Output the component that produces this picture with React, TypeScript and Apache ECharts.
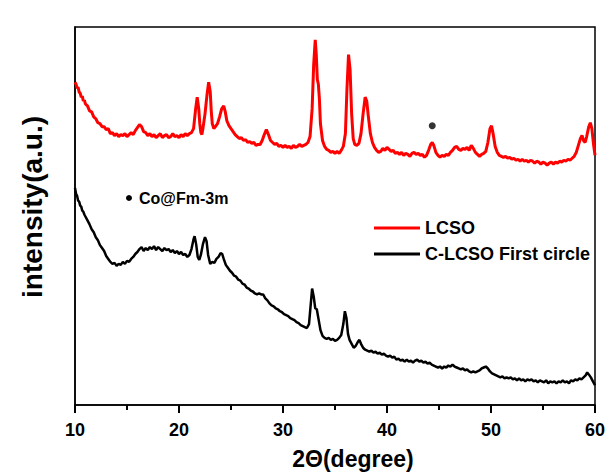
import React, { useEffect, useRef } from "react";
import * as echarts from "echarts";

const xTicks = [10, 20, 30, 40, 50, 60];
const xMinorTicks = [15, 25, 35, 45, 55];
const seriesNames = ["LCSO", "C-LCSO First circle"];
const seriesColors = ["#ff0000", "#000000"];

const lcso: number[][] = [
  [10.0,327],[10.1,325],[10.2,321],[10.3,322],[10.4,317],[10.5,316],[10.6,312],[10.7,313],[10.8,308],[10.9,309],[11.0,305],[11.2,303],[11.4,298],[11.6,297],[11.8,292],[12.0,290],[12.2,286],[12.4,285],[12.6,282],[12.8,282],[13.0,279],[13.2,280],[13.4,275],[13.6,276],[13.8,273],[14.0,275],[14.2,272],[14.4,274],[14.6,273],[14.8,275],[15.0,272],[15.2,274],[15.4,276],[15.6,274],[15.8,278],[16.0,281],[16.2,284],[16.4,282],[16.6,277],[16.8,276],[17.0,273],[17.2,275],[17.4,272],[17.6,274],[17.8,271],[18.0,273],[18.2,275],[18.4,271],[18.6,273],[18.8,274],[19.0,271],[19.2,272],[19.4,275],[19.6,272],[19.8,273],[20.0,271],[20.2,274],[20.4,272],[20.6,275],[20.8,273],[21.0,275],[21.2,276],[21.4,280],[21.6,300],[21.75,312],[21.9,300],[22.0,285],[22.1,276],[22.2,274],[22.3,280],[22.5,295],[22.7,315],[22.85,327],[23.0,318],[23.1,298],[23.2,285],[23.35,280],[23.5,282],[23.7,285],[23.9,292],[24.1,300],[24.3,303],[24.45,297],[24.6,288],[24.8,283],[25.0,280],[25.2,277],[25.4,274],[25.6,272],[25.8,270],[26.0,271],[26.2,268],[26.4,269],[26.6,266],[26.8,267],[27.0,265],[27.2,266],[27.4,263],[27.6,264],[27.8,264],[28.0,268],[28.2,274],[28.4,279],[28.6,274],[28.8,268],[29.0,266],[29.2,264],[29.4,265],[29.6,262],[29.8,263],[30.0,261],[30.2,263],[30.4,261],[30.6,262],[30.8,260],[31.0,263],[31.2,261],[31.4,262],[31.6,264],[31.8,262],[32.0,263],[32.2,264],[32.4,266],[32.6,272],[32.8,300],[32.95,345],[33.1,370],[33.2,355],[33.3,330],[33.4,325],[33.5,310],[33.6,285],[33.8,268],[34.0,262],[34.2,259],[34.4,258],[34.6,256],[34.8,257],[35.0,255],[35.2,257],[35.4,255],[35.6,258],[35.8,262],[36.0,275],[36.15,320],[36.3,355],[36.45,340],[36.6,295],[36.75,270],[36.9,264],[37.1,263],[37.3,265],[37.5,275],[37.7,295],[37.9,312],[38.05,308],[38.2,293],[38.4,275],[38.6,266],[38.8,261],[39.0,258],[39.2,256],[39.4,257],[39.6,260],[39.8,258],[40.0,261],[40.2,259],[40.4,257],[40.6,258],[40.8,255],[41.0,256],[41.2,254],[41.4,256],[41.6,253],[41.8,255],[42.0,254],[42.2,252],[42.4,255],[42.6,256],[42.8,254],[43.0,255],[43.2,253],[43.4,254],[43.6,251],[43.8,253],[44.0,258],[44.2,264],[44.35,266],[44.5,263],[44.7,256],[44.9,253],[45.1,251],[45.3,253],[45.5,252],[45.7,254],[45.9,253],[46.1,256],[46.3,258],[46.5,261],[46.7,262],[46.9,259],[47.1,258],[47.3,260],[47.5,259],[47.7,261],[47.9,258],[48.1,263],[48.3,260],[48.5,256],[48.7,254],[48.9,252],[49.1,254],[49.3,255],[49.5,257],[49.7,266],[49.9,280],[50.05,283],[50.2,275],[50.4,262],[50.6,256],[50.8,253],[51.0,252],[51.2,251],[51.4,252],[51.6,250],[51.8,251],[52.0,249],[52.2,250],[52.4,248],[52.6,249],[52.8,247],[53.0,249],[53.2,247],[53.4,248],[53.6,246],[53.8,248],[54.0,247],[54.2,245],[54.4,247],[54.6,246],[54.8,244],[55.0,246],[55.2,245],[55.4,243],[55.6,245],[55.8,246],[56.0,244],[56.2,246],[56.4,245],[56.6,247],[56.8,246],[57.0,248],[57.2,247],[57.4,249],[57.6,248],[57.8,250],[58.0,252],[58.2,256],[58.4,263],[58.6,270],[58.75,273],[58.9,268],[59.05,266],[59.2,272],[59.4,282],[59.55,286],[59.7,280],[59.85,265],[60.0,253]
];

const clcso: number[][] = [
  [10.0,220],[10.1,214],[10.2,212],[10.3,207],[10.4,206],[10.5,202],[10.6,201],[10.7,197],[10.8,196],[10.9,193],[11.0,191],[11.2,187],[11.4,183],[11.6,178],[11.8,175],[12.0,170],[12.2,167],[12.4,162],[12.6,159],[12.8,156],[13.0,151],[13.2,148],[13.4,145],[13.6,143],[13.8,144],[14.0,141],[14.2,143],[14.4,142],[14.6,145],[14.8,143],[15.0,146],[15.2,145],[15.4,148],[15.6,150],[15.8,153],[16.0,155],[16.2,158],[16.4,160],[16.6,156],[16.8,159],[17.0,157],[17.2,160],[17.4,158],[17.6,161],[17.8,157],[18.0,160],[18.2,158],[18.4,156],[18.6,159],[18.8,157],[19.0,158],[19.2,155],[19.4,157],[19.6,154],[19.8,156],[20.0,153],[20.2,155],[20.4,152],[20.6,153],[20.8,150],[21.0,152],[21.2,158],[21.4,168],[21.5,171],[21.65,163],[21.8,150],[21.95,147],[22.1,152],[22.3,163],[22.5,170],[22.65,166],[22.8,152],[23.0,143],[23.2,145],[23.4,144],[23.6,148],[23.8,150],[24.0,154],[24.15,153],[24.3,148],[24.5,142],[24.7,139],[24.9,136],[25.1,134],[25.3,131],[25.5,130],[25.7,127],[25.9,126],[26.1,123],[26.3,122],[26.5,119],[26.7,118],[26.9,116],[27.1,115],[27.3,113],[27.5,112],[27.7,113],[27.9,112],[28.1,112],[28.3,108],[28.5,106],[28.7,103],[28.9,101],[29.1,100],[29.3,98],[29.5,97],[29.7,95],[29.9,94],[30.1,92],[30.3,91],[30.5,90],[30.7,88],[30.9,87],[31.1,86],[31.3,84],[31.5,83],[31.7,81],[31.9,80],[32.1,79],[32.3,78],[32.5,82],[32.65,100],[32.8,118],[32.95,110],[33.1,98],[33.25,97],[33.4,88],[33.6,76],[33.8,70],[34.0,68],[34.2,67],[34.4,68],[34.6,66],[34.8,67],[35.0,65],[35.2,66],[35.4,68],[35.6,71],[35.8,82],[35.95,95],[36.1,88],[36.25,72],[36.4,66],[36.6,62],[36.8,58],[37.0,60],[37.2,64],[37.35,66],[37.5,62],[37.7,58],[37.9,56],[38.1,55],[38.3,54],[38.5,55],[38.7,53],[38.9,54],[39.1,52],[39.3,53],[39.5,51],[39.7,52],[39.9,50],[40.1,49],[40.3,50],[40.5,48],[40.7,49],[40.9,46],[41.1,47],[41.3,45],[41.5,46],[41.7,44],[41.9,46],[42.1,44],[42.3,45],[42.5,43],[42.7,45],[42.9,46],[43.1,44],[43.3,45],[43.5,43],[43.7,44],[43.9,42],[44.1,43],[44.3,41],[44.5,40],[44.7,39],[44.9,38],[45.1,39],[45.3,37],[45.5,39],[45.7,38],[45.9,40],[46.1,39],[46.3,41],[46.5,39],[46.7,38],[46.9,37],[47.1,36],[47.3,37],[47.5,35],[47.7,36],[47.9,34],[48.1,33],[48.3,34],[48.5,33],[48.7,34],[48.9,35],[49.1,37],[49.3,38],[49.5,39],[49.7,37],[49.9,34],[50.1,32],[50.3,31],[50.5,30],[50.7,29],[50.9,28],[51.1,29],[51.3,27],[51.5,28],[51.7,27],[51.9,28],[52.1,26],[52.3,27],[52.5,25],[52.7,27],[52.9,25],[53.1,26],[53.3,24],[53.5,26],[53.7,25],[53.9,26],[54.1,24],[54.3,25],[54.5,23],[54.7,25],[54.9,24],[55.1,23],[55.3,25],[55.5,22],[55.7,24],[55.9,23],[56.1,24],[56.3,22],[56.5,24],[56.7,23],[56.9,25],[57.1,23],[57.3,24],[57.5,22],[57.7,25],[57.9,24],[58.1,26],[58.3,25],[58.5,27],[58.7,26],[58.9,28],[59.1,30],[59.25,33],[59.4,31],[59.6,28],[59.8,24],[60.0,20]
];

// Co@Fm-3m reflection marker (2θ, intensity)
const coPeak: number[][] = [[44.35, 283]];
const annotationText = "Co@Fm-3m";

const FONT = "'Liberation Sans', Arial, Helvetica, sans-serif";

// tick marks: [value, length]
const tickData: number[][] = [
  ...xTicks.map((v) => [v, 8]),
  ...xMinorTicks.map((v) => [v, 5]),
];

export default function App() {
  const ref = useRef<HTMLDivElement>(null);
  useEffect(() => {
    if (!ref.current) return;
    const chart = echarts.init(ref.current, null, { renderer: "svg" });
    chart.setOption({
      animation: false,
      grid: {
        left: 75,
        right: 21,
        top: 27,
        bottom: 65,
        show: true,
        borderColor: "#000",
        borderWidth: 1.5,
      },
      legend: {
        data: seriesNames.map((n) => ({ name: n, icon: "rect" })),
        orient: "vertical",
        left: 369,
        top: 214,
        itemWidth: 46,
        itemHeight: 3,
        itemGap: 8,
        textStyle: {
          fontFamily: FONT,
          fontWeight: "bold",
          fontSize: 18,
          color: "#000",
          lineHeight: 18,
        },
      },
      xAxis: {
        type: "value",
        min: xTicks[0],
        max: xTicks[xTicks.length - 1],
        interval: 10,
        name: "2\u0398(degree)",
        nameLocation: "middle",
        nameGap: 42,
        nameTextStyle: {
          fontFamily: FONT,
          fontWeight: "bold",
          fontSize: 23,
          color: "#000",
          padding: [0, 0, 0, 36],
        },
        axisLine: { show: true, onZero: false, lineStyle: { color: "#000", width: 1.5 } },
        axisTick: { show: true, length: 8, lineStyle: { color: "#000", width: 2 } },
        minorTick: { show: true, splitNumber: 2, length: 5, lineStyle: { color: "#000", width: 2 } },
        splitLine: { show: false },
        axisLabel: {
          margin: 16,
          fontFamily: FONT,
          fontWeight: "bold",
          fontSize: 18,
          color: "#000",
        },
      },
      yAxis: {
        type: "value",
        min: 0,
        max: 383,
        name: "intensity(a.u.)",
        nameLocation: "middle",
        nameGap: 29,
        nameRotate: 90,
        nameTextStyle: {
          fontFamily: FONT,
          fontWeight: "bold",
          fontSize: 28,
          color: "#000",
          padding: [0, 0, 0, 18],
        },
        axisLine: { show: true, lineStyle: { color: "#000", width: 1.5 } },
        axisTick: { show: false },
        axisLabel: { show: false },
        splitLine: { show: false },
      },
      series: [
        {
          name: seriesNames[0],
          type: "line",
          data: lcso,
          showSymbol: false,
          symbol: "none",
          lineStyle: { color: seriesColors[0], width: 3 },
          itemStyle: { color: seriesColors[0] },
        },
        {
          name: seriesNames[1],
          type: "line",
          data: clcso,
          showSymbol: false,
          symbol: "none",
          lineStyle: { color: seriesColors[1], width: 2.5 },
          itemStyle: { color: seriesColors[1] },
        },
        {
          name: "Co peak",
          type: "scatter",
          data: coPeak,
          symbol: "circle",
          symbolSize: 7,
          itemStyle: { color: "#000" },
          z: 5,
        },
        {
          name: "ticks",
          type: "custom",
          data: tickData,
          clip: false,
          silent: true,
          z: 10,
          renderItem: (params: any, api: any) => {
            const p = api.coord([api.value(0), 0]);
            const len = api.value(1);
            return {
              type: "line",
              shape: { x1: p[0], y1: p[1], x2: p[0], y2: p[1] + len },
              style: { stroke: "#000", lineWidth: 2 },
            };
          },
        },
      ],
      graphic: [
        { type: "circle", shape: { cx: 129, cy: 198, r: 3 }, style: { fill: "#000" } },
        {
          type: "text",
          x: 139,
          y: 198,
          style: {
            text: annotationText,
            fontFamily: FONT,
            fontWeight: "bold",
            fontSize: 16,
            fill: "#000",
            verticalAlign: "middle",
            align: "left",
          },
        },
      ],
    });
    return () => chart.dispose();
  }, []);
  return (
    <div
      ref={ref}
      style={{ position: "fixed", left: 0, top: 0, width: 616, height: 475, background: "#fff" }}
    />
  );
}
